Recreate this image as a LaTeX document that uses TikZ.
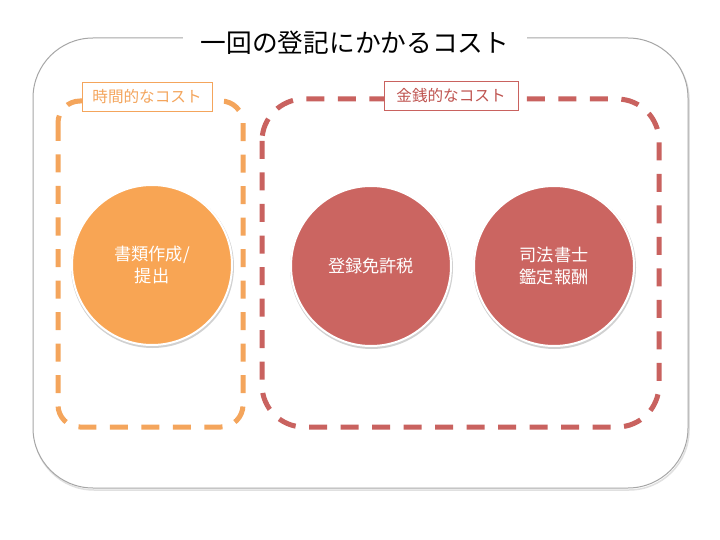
\documentclass[tikz,border=0pt]{standalone}
\usepackage{fontspec}
\newfontfamily\jp{Noto Sans CJK JP}
\definecolor{orgline}{HTML}{F4A55C}
\definecolor{orgfill}{HTML}{F8A554}
\definecolor{redline}{HTML}{C9625F}
\definecolor{redfill}{HTML}{CB6561}
\definecolor{redtext}{HTML}{BF5450}
\definecolor{outerline}{HTML}{A6A6A6}
\tikzset{
  outerbox/.style={draw=outerline, line width=1pt, rounded corners=60pt},
  groupbox/.style={line width=5pt, dash pattern=on 18pt off 13.5pt},
  grouplabel/.style={draw, fill=white, line width=0.7pt, font=\jp\fontsize{15.6}{18}\selectfont, minimum width=130pt, minimum height=29pt, inner sep=2pt},
  costcircle/.style={circle, draw=white, line width=2pt, minimum size=160pt, inner sep=0pt, text=white, align=center, font=\jp\fontsize{17.2}{22}\selectfont},
  shade/.style={circle, fill=black!18, minimum size=163pt, inner sep=0pt}
}
\begin{document}
\begin{tikzpicture}[x=1pt, y=-1pt]
\useasboundingbox (0,0) rectangle (720,540);
\fill[white] (0,0) rectangle (720,540);
% outer box with faint shadow
\draw[black!12, line width=1.5pt, rounded corners=60pt] (34,40) rectangle (689,490);
\draw[outerbox, fill=white] (33,38) rectangle (688,488);
\node[fill=white, inner xsep=18pt, inner ysep=2pt, font=\jp\fontsize{25.7}{30}\selectfont] (title) at (355,43) {一回の登記にかかるコスト};
% group boxes
\draw[groupbox, draw=orgline, rounded corners=22pt] (58,101) rectangle (243,427);
\draw[groupbox, draw=redline, rounded corners=42pt] (262,99) rectangle (659,427);
\node[grouplabel, draw=orgline, text=orgline] (timelabel) at (147,96.5) {時間的なコスト};
\node[grouplabel, draw=redline, text=redtext, minimum width=134pt] (moneylabel) at (451,96) {金銭的なコスト};
% circles
\node[shade] at (152.5,266.5) {};
\node[shade] at (371.5,267.5) {};
\node[shade] at (554.5,267.5) {};
\node[costcircle, fill=orgfill] (docs) at (152,265) {書類作成/\\提出};
\node[costcircle, fill=redfill] (tax) at (371,266) {登録免許税};
\node[costcircle, fill=redfill] (fee) at (554,266) {司法書士\\鑑定報酬};
\end{tikzpicture}
\end{document}
